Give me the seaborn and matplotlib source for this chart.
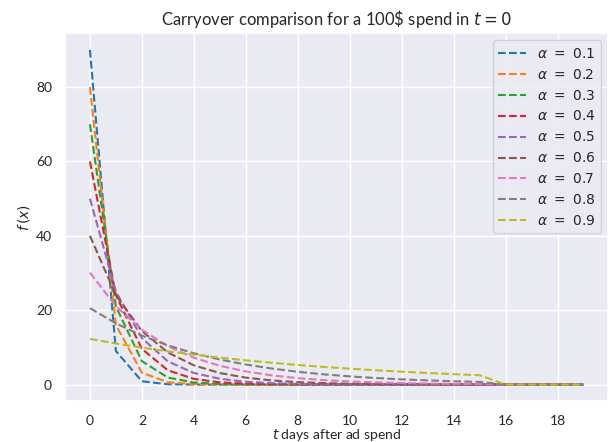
import numpy as np
import pandas as pd
import seaborn as sns
import matplotlib.pyplot as plt

days = list(range(20))
alphas = [0.1, 0.2, 0.3, 0.4, 0.5, 0.6, 0.7, 0.8, 0.9]

a01 = [90.0, 9.0, 0.9, 0.09, 0.01, 0, 0, 0, 0, 0, 0, 0, 0, 0, 0, 0, 0, 0, 0, 0]
a02 = [80.0, 16.0, 3.2, 0.64, 0.13, 0.03, 0.01, 0, 0, 0, 0, 0, 0, 0, 0, 0, 0, 0, 0, 0]
a03 = [70.0, 21.0, 6.3, 1.89, 0.57, 0.17, 0.05, 0.02, 0.01, 0, 0, 0, 0, 0, 0, 0, 0, 0, 0, 0]
a04 = [60.0, 24.0, 9.6, 3.84, 1.54, 0.61, 0.25, 0.10, 0.04, 0.02, 0.01, 0, 0, 0, 0, 0, 0, 0, 0, 0]
a05 = [50.0, 25.0, 12.5, 6.25, 3.13, 1.56, 0.78, 0.39, 0.20, 0.10, 0.05, 0.02, 0.01, 0.01, 0, 0, 0, 0, 0, 0]
a06 = [40.01, 24.01, 14.40, 8.64, 5.18, 3.11, 1.87, 1.12, 0.67, 0.40, 0.24, 0.15, 0.09, 0.05, 0.03, 0.02, 0, 0, 0, 0]
a07 = [30.10, 21.07, 14.75, 10.32, 7.23, 5.06, 3.54, 2.48, 1.74, 1.21, 0.85, 0.60, 0.42, 0.29, 0.20, 0.14, 0, 0, 0, 0]
a08 = [20.58, 16.46, 13.17, 10.54, 8.43, 6.74, 5.40, 4.32, 3.45, 2.76, 2.21, 1.77, 1.41, 1.13, 0.91, 0.72, 0, 0, 0, 0]
a09 = [12.27, 11.04, 9.94, 8.95, 8.05, 7.25, 6.52, 5.87, 5.28, 4.75, 4.28, 3.85, 3.47, 3.12, 2.81, 2.53, 0, 0, 0, 0]

series = [a01, a02, a03, a04, a05, a06, a07, a08, a09]

sns.set_theme(style="darkgrid")
plt.rcParams['font.family'] = ['Lato', 'DejaVu Sans']

fig, ax = plt.subplots(figsize=(6.1, 4.42), dpi=100)
colors = sns.color_palette("tab10")
for i, (a, vals) in enumerate(zip(alphas, series)):
    sns.lineplot(x=days, y=vals, ax=ax, color=colors[i], linestyle="--",
                 label=r"$\alpha\ =\ %.1f$" % a)

ax.set_xticks(range(0, 20, 2))
ax.set_yticks([0, 20, 40, 60, 80])
ax.set_title(r"Carryover comparison for a 100\$ spend in $t=0$", fontsize=12)
ax.set_xlabel(r"$t$ days after ad spend", fontsize=10, labelpad=0)
ax.set_ylabel(r"$f\,(x)$", fontsize=10, labelpad=3)
ax.tick_params(labelsize=10)
ax.legend(loc="upper right", fontsize=10)

fig.subplots_adjust(left=0.107, right=0.997, top=0.925, bottom=0.092)
fig.savefig("out.png")
